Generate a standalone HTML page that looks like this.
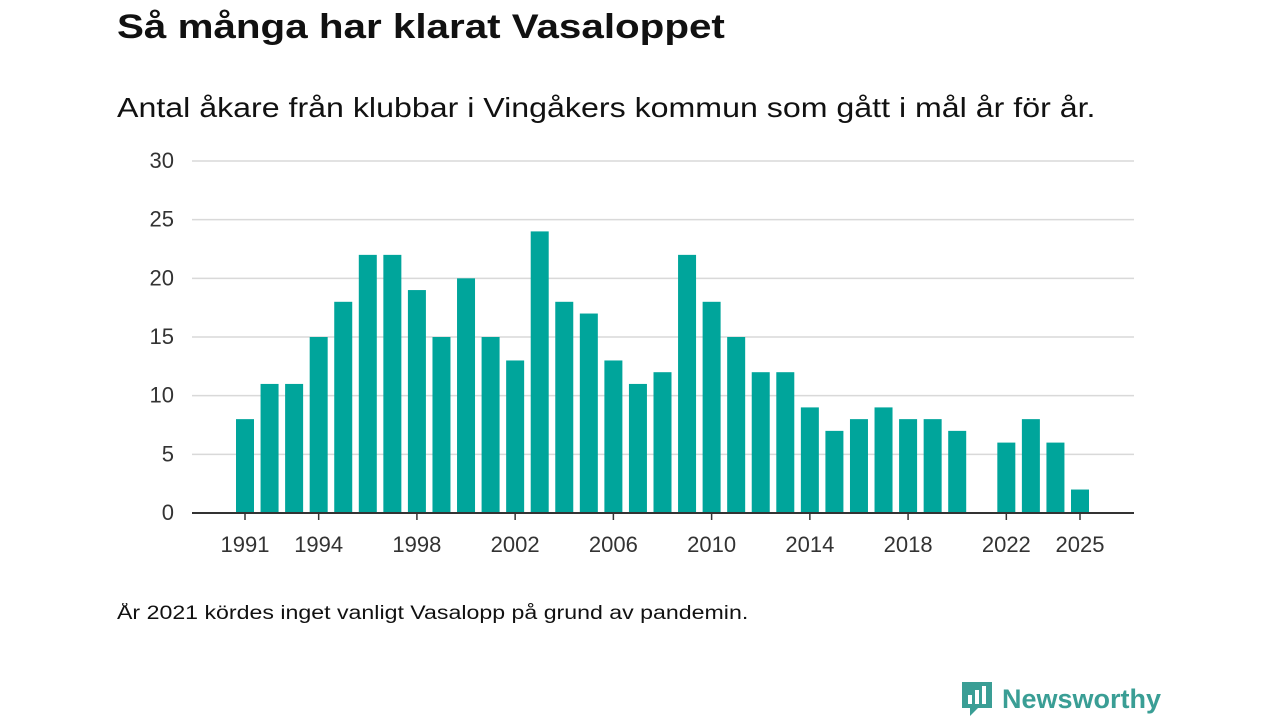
<!DOCTYPE html>
<html><head><meta charset="utf-8"><style>
body{margin:0;width:1280px;height:720px;background:#fff;font-family:"Liberation Sans","DejaVu Sans",sans-serif;overflow:hidden;position:relative}
.t{position:absolute;left:117px;top:8px;font-size:34px;font-weight:bold;color:#111;transform:scaleX(1.187);transform-origin:left top;white-space:nowrap}
.s{position:absolute;left:117px;top:92px;font-size:28px;color:#111;transform:scaleX(1.148);transform-origin:left top;white-space:nowrap}
.n{position:absolute;left:117px;top:603px;font-size:19px;color:#111;transform:scaleX(1.218);transform-origin:left top;white-space:nowrap}
.logo{position:absolute;left:960px;top:680px;display:flex;align-items:center;gap:8px;color:#3a9e95;font-size:27px;font-weight:bold}
</style></head><body>
<div class="t">Så många har klarat Vasaloppet</div>
<div class="s">Antal åkare från klubbar i Vingåkers kommun som gått i mål år för år.</div>
<svg id="c" width="1280" height="720" style="position:absolute;left:0;top:0"></svg>
<div class="n">År 2021 kördes inget vanligt Vasalopp på grund av pandemin.</div>
<div class="logo">
<svg width="34" height="38" viewBox="0 0 34 38"><path d="M2 2h30v26H18l-8 8v-8H2z" fill="#3a9e95"/><rect x="8" y="15" width="4" height="9" fill="#fff"/><rect x="15" y="10" width="4" height="14" fill="#fff"/><rect x="22" y="6" width="4" height="18" fill="#fff"/></svg>
<span>Newsworthy</span></div>
<script>
const years=[1991,1992,1993,1994,1995,1996,1997,1998,1999,2000,2001,2002,2003,2004,2005,2006,2007,2008,2009,2010,2011,2012,2013,2014,2015,2016,2017,2018,2019,2020,2021,2022,2023,2024,2025];
const values=[8,11,11,15,18,22,22,19,15,20,15,13,24,18,17,13,11,12,22,18,15,12,12,9,7,8,9,8,8,7,null,6,8,6,2];
const yTicks=[0,5,10,15,20,25,30];
const xTicks=[1991,1994,1998,2002,2006,2010,2014,2018,2022,2025];
const svg=document.getElementById('c');const NS='http://www.w3.org/2000/svg';
const x=y=>245+(y-1991)*(1080-245)/34;
const yS=v=>513-v*(513-161)/30;
function mk(t,a){const e=document.createElementNS(NS,t);for(const k in a)e.setAttribute(k,a[k]);svg.appendChild(e);return e;}
yTicks.forEach(v=>{
 if(v>0){const g=mk('line',{x1:192,x2:1134,y1:yS(v),y2:yS(v),stroke:'#d9d9d9','stroke-width':1.5});
 
 }
 const t=mk('text',{x:174,y:yS(v)+7,'text-anchor':'end','font-size':22,fill:'#333'});t.textContent=v;
 
 
});
years.forEach((yr,i)=>{if(values[i]==null)return;
 const r=mk('rect',{x:x(yr)-9,y:yS(values[i]),width:18,height:yS(0)-yS(values[i]),fill:'#00a59b'});
 
 
});
const ax=mk('line',{x1:192,x2:1134,y1:513,y2:513,stroke:'#333','stroke-width':2});


xTicks.forEach(yr=>{
 const l=mk('line',{x1:x(yr),x2:x(yr),y1:513,y2:520,stroke:'#333','stroke-width':1.5});
 
 
 const t=mk('text',{x:x(yr),y:552,'text-anchor':'middle','font-size':22,fill:'#333'});t.textContent=yr;
 
 
});
</script>
</body></html>
